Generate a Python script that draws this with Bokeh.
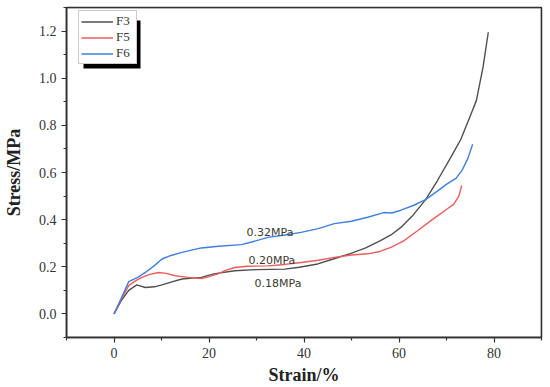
from bokeh.plotting import figure
from bokeh.models import (Legend, LegendItem, BoxAnnotation, Range1d, NumeralTickFormatter,
                          FixedTicker, Label)
from bokeh.embed import file_html
from bokeh.resources import INLINE

# ---- data ----
F3_x = [0, 1.5, 3.1, 4.8, 6.6, 8.5, 10.1, 12, 14.3, 16.5, 18.4, 21, 25.4, 30, 35.9, 39, 42.9, 46, 49.9,
        53, 56, 58.3, 60.4, 63, 65.6, 68.1, 70.9, 73, 75, 76.3, 77.7, 78.8]
F3_y = [0, 0.055, 0.10, 0.123, 0.112, 0.115, 0.123, 0.135, 0.148, 0.152, 0.155, 0.170, 0.183, 0.188, 0.19,
        0.198, 0.212, 0.232, 0.257, 0.28, 0.31, 0.335, 0.367, 0.42, 0.485, 0.566, 0.664, 0.74, 0.84, 0.906,
        1.048, 1.195]

F5_x = [0, 1.5, 3.1, 4.5, 5.9, 7.5, 9.4, 11, 12.9, 15.7, 18.4, 20, 21.9, 23.5, 25.4, 28, 32.4, 36, 39.4,
        43, 46.4, 50, 53.4, 56, 58.3, 61, 63.9, 67, 70.2, 71.5, 72.6, 73.2]
F5_y = [0, 0.06, 0.12, 0.14, 0.155, 0.168, 0.176, 0.172, 0.162, 0.155, 0.15, 0.158, 0.17, 0.185, 0.197,
        0.202, 0.204, 0.21, 0.218, 0.228, 0.24, 0.25, 0.255, 0.265, 0.282, 0.31, 0.353, 0.40, 0.446, 0.465,
        0.50, 0.545]

F6_x = [0, 1.5, 3.1, 5, 6.6, 8.5, 10.1, 12, 14.3, 16.5, 18.4, 22, 26.8, 29, 32.4, 36, 39.4, 43, 46.4, 50,
        53.4, 56.8, 58.5, 60.4, 63, 65.6, 68, 70.2, 72, 73.3, 74.5, 75.5]
F6_y = [0, 0.065, 0.137, 0.155, 0.176, 0.205, 0.233, 0.248, 0.261, 0.272, 0.28, 0.287, 0.294, 0.305, 0.325,
        0.335, 0.346, 0.362, 0.383, 0.393, 0.41, 0.43, 0.428, 0.44, 0.46, 0.485, 0.52, 0.553, 0.575, 0.61,
        0.66, 0.72]

series_names = ["F3", "F5", "F6"]
series_colors = ["#4f4f4f", "#ef5a5c", "#3f7fe0"]

note_text = ["0.32MPa", "0.20MPa", "0.18MPa"]
note_x = [27.9, 28.3, 29.6]
note_y = [0.345, 0.226, 0.130]

x_ticks = [0, 20, 40, 60, 80]
x_minor = [-10, 10, 30, 50, 70, 90]
y_ticks = [0.0, 0.2, 0.4, 0.6, 0.8, 1.0, 1.2]
y_minor = [-0.1, 0.1, 0.3, 0.5, 0.7, 0.9, 1.1, 1.3]

AX = "#333333"

p = figure(width=550, height=387, output_backend="svg", toolbar_location=None,
           x_range=Range1d(-10, 90), y_range=Range1d(-0.1, 1.3),
           min_border_left=65, min_border_right=9, min_border_top=7, min_border_bottom=50)
p.grid.visible = False
p.background_fill_color = "white"
p.border_fill_color = "white"
p.outline_line_color = AX
p.outline_line_width = 1.5

renderers = []
for xs, ys, c in zip([F3_x, F5_x, F6_x], [F3_y, F5_y, F6_y], series_colors):
    r = p.line(xs, ys, line_color=c, line_width=1.4)
    renderers.append(r)

for ax in (p.xaxis[0], p.yaxis[0]):
    ax.axis_line_color = AX
    ax.axis_line_width = 1.5
    ax.major_tick_line_color = AX
    ax.minor_tick_line_color = AX
    ax.major_tick_line_width = 1.2
    ax.minor_tick_line_width = 1.2
    ax.major_tick_out = 5
    ax.major_tick_in = 0
    ax.minor_tick_out = 3
    ax.minor_tick_in = 0
    ax.major_label_text_font = "Liberation Serif"
    ax.major_label_text_font_size = "14px"
    ax.major_label_text_color = AX
    ax.axis_label_text_font = "Liberation Serif"
    ax.axis_label_text_font_style = "bold"
    ax.axis_label_text_font_size = "18px"
    ax.axis_label_text_color = "#222222"

p.xaxis.ticker = FixedTicker(ticks=x_ticks, minor_ticks=x_minor)
p.yaxis.ticker = FixedTicker(ticks=y_ticks, minor_ticks=y_minor)
p.yaxis.formatter = NumeralTickFormatter(format="0.0")
p.xaxis.axis_label = "Strain/%"
p.yaxis.axis_label = "Stress/MPa"
p.xaxis.major_label_standoff = 5
p.yaxis.major_label_standoff = 5
p.xaxis.axis_label_standoff = 4
p.yaxis.axis_label_standoff = 12

# frame box (top and right edges)
frame_box = BoxAnnotation(fill_alpha=0, fill_color=None, line_color=AX, line_width=2)
p.add_layout(frame_box)

for t, x, y in zip(note_text, note_x, note_y):
    p.add_layout(Label(x=x, y=y, text=t, text_font="DejaVu Sans", text_font_size="11px",
                       text_color="#3a3a30", text_baseline="middle", text_align="left"))

shadow = BoxAnnotation(left=17, right=74, top=317, bottom=269,
                       left_units="screen", right_units="screen", top_units="screen", bottom_units="screen",
                       fill_color="black", fill_alpha=1.0, line_color=None)
p.add_layout(shadow)

legend = Legend(items=[LegendItem(label=n, renderers=[r]) for n, r in zip(series_names, renderers)],
                location=(12, 273), glyph_width=32, glyph_height=15, label_height=15, label_width=18,
                label_standoff=3, padding=2, spacing=0, margin=0,
                label_text_font="Liberation Serif", label_text_font_size="13px",
                label_text_color=AX,
                border_line_color="#999999", border_line_width=1,
                background_fill_color="white", background_fill_alpha=1.0)
p.add_layout(legend)

open("out.html", "w").write(file_html(p, INLINE))
